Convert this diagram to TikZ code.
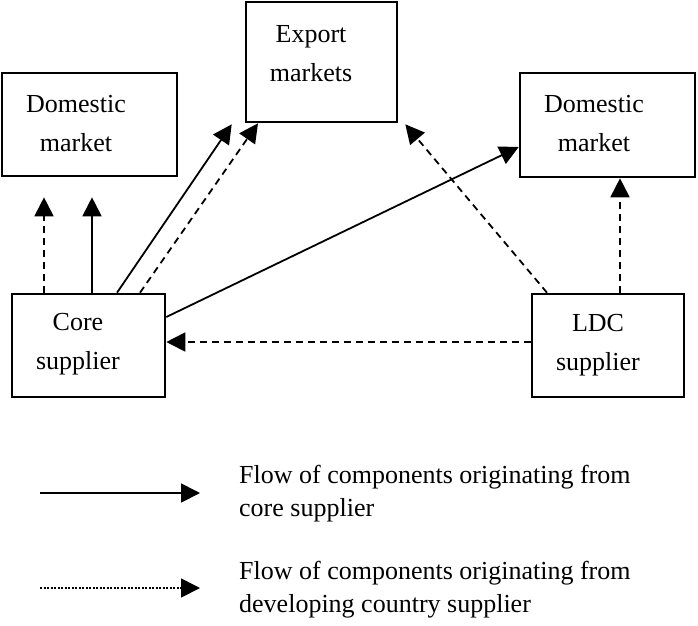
\documentclass[tikz,border=0pt]{standalone}
\usepackage{fontspec}
\setmainfont{Liberation Serif}
\usetikzlibrary{arrows.meta,calc}

\begin{document}
\begin{tikzpicture}[x=1pt,y=-1pt,>={Triangle[length=19pt,width=19pt]},
  box/.style={draw,line width=2.6pt,inner sep=0pt},
  lbl/.style={align=center,inner sep=0pt,font=\fontsize{26}{39}\selectfont},
  leg/.style={align=left,anchor=west,inner sep=0pt,font=\fontsize{26}{33}\selectfont},
  flow/.style={->,line width=1.8pt},
  ldcflow/.style={->,line width=1.8pt,dash pattern=on 7pt off 5pt},
  dotflow/.style={->,line width=1.8pt,dash pattern=on 2pt off 1.5pt}]
\useasboundingbox (0,0) rectangle (698,625);
\node[box,minimum width=175pt,minimum height=103pt](dl)at(89.5,124.5){};
\node[box,minimum width=151pt,minimum height=120pt](ex)at(321.5,62){};
\node[box,minimum width=175pt,minimum height=104pt](dr)at(607.5,125){};
\node[box,minimum width=153pt,minimum height=103pt](core)at(88.5,345.5){};
\node[box,minimum width=152pt,minimum height=103pt](ldc)at(608,345.5){};
\node[lbl](dlt)at(76,124){Domestic\\market};
\node[lbl](ext)at(311,54){Export\\markets};
\node[lbl](drt)at(594,124){Domestic\\market};
\node[lbl](coret)at(78,344){Core\\supplier};
\node[lbl](ldct)at(598,345){LDC\\supplier};
\draw[ldcflow,shorten >=20pt](core.north -| 44,0)--(dl.south -| 44,0);
\draw[flow,shorten >=20pt](core.north -| 92,0)--(dl.south -| 92,0);
\draw[flow](core.north -| 117,0)--($(ex.south west)+(-13,1)$);
\draw[ldcflow](core.north -| 140,0)--(ex.south -| 258,0);
\draw[flow](core.east |- 0,317)--(dr.west |- 0,147);
\draw[ldcflow](ldc.north -| 547,0)--($(ex.south east)+(7,1)$);
\draw[ldcflow](ldc.north -| 620,0)--(dr.south -| 620,0);
\draw[ldcflow](ldc.west |- 0,342)--(core.east |- 0,342);
\coordinate(sa)at(40,493);\coordinate(sb)at(200,493);
\coordinate(da)at(40,588);\coordinate(db)at(200,588);
\draw[flow](sa)--(sb);
\draw[dotflow](da)--(db);
\node[leg](ls)at(239,494){Flow of components originating from\\core supplier};
\node[leg](ld)at(239,590){Flow of components originating from\\developing country supplier};
\end{tikzpicture}
\end{document}
